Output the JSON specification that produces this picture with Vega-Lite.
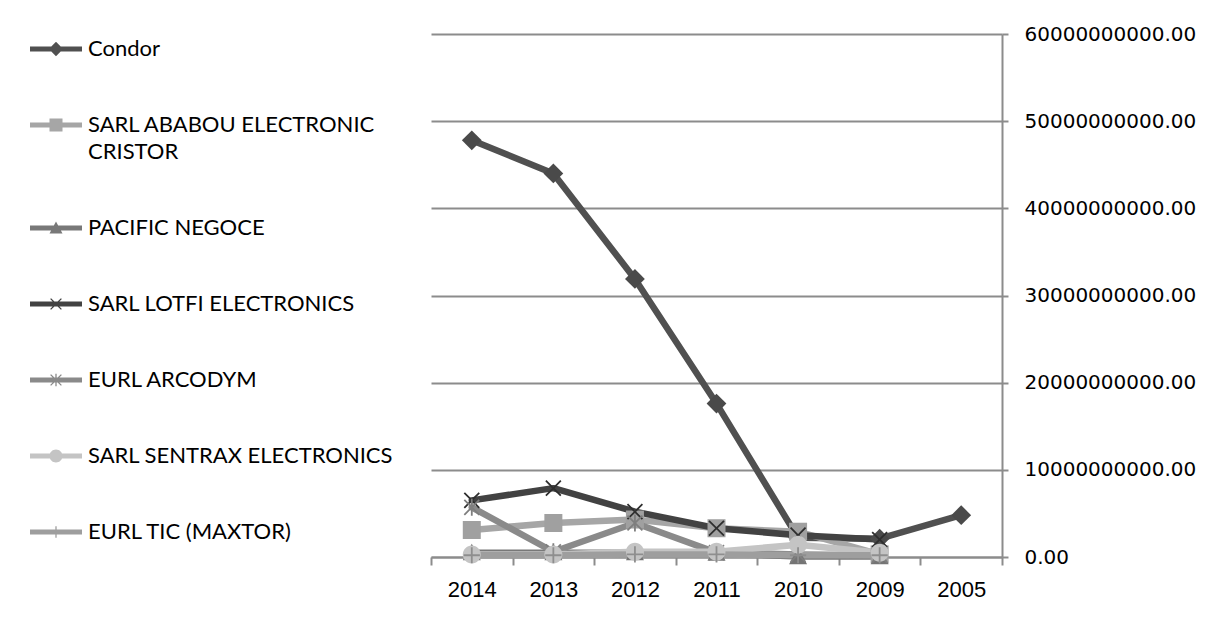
{
  "$schema": "https://vega.github.io/schema/vega-lite/v6.json",
  "autosize": {"type": "none"},
  "padding": {"left": 431, "top": 34, "right": 229, "bottom": 62},
  "width": 571,
  "height": 523,
  "background": "white",
  "config": {
    "view": {"stroke": null},
    "style": {"guide-label": {"lineHeight": 27}}
  },
  "data": {
    "values": [
      {"series": "Condor", "year": "2014", "value": 47800000000},
      {"series": "Condor", "year": "2013", "value": 44000000000},
      {"series": "Condor", "year": "2012", "value": 31900000000},
      {"series": "Condor", "year": "2011", "value": 17600000000},
      {"series": "Condor", "year": "2010", "value": 2200000000},
      {"series": "Condor", "year": "2009", "value": 2100000000},
      {"series": "Condor", "year": "2005", "value": 4800000000},
      {"series": "SARL ABABOU ELECTRONIC CRISTOR", "year": "2014", "value": 3100000000},
      {"series": "SARL ABABOU ELECTRONIC CRISTOR", "year": "2013", "value": 3900000000},
      {"series": "SARL ABABOU ELECTRONIC CRISTOR", "year": "2012", "value": 4300000000},
      {"series": "SARL ABABOU ELECTRONIC CRISTOR", "year": "2011", "value": 3300000000},
      {"series": "SARL ABABOU ELECTRONIC CRISTOR", "year": "2010", "value": 2900000000},
      {"series": "SARL ABABOU ELECTRONIC CRISTOR", "year": "2009", "value": 300000000},
      {"series": "PACIFIC NEGOCE", "year": "2014", "value": 500000000},
      {"series": "PACIFIC NEGOCE", "year": "2013", "value": 500000000},
      {"series": "PACIFIC NEGOCE", "year": "2012", "value": 500000000},
      {"series": "PACIFIC NEGOCE", "year": "2011", "value": 450000000},
      {"series": "PACIFIC NEGOCE", "year": "2010", "value": 50000000},
      {"series": "PACIFIC NEGOCE", "year": "2009", "value": 50000000},
      {"series": "SARL LOTFI ELECTRONICS", "year": "2014", "value": 6500000000},
      {"series": "SARL LOTFI ELECTRONICS", "year": "2013", "value": 7900000000},
      {"series": "SARL LOTFI ELECTRONICS", "year": "2012", "value": 5200000000},
      {"series": "SARL LOTFI ELECTRONICS", "year": "2011", "value": 3300000000},
      {"series": "SARL LOTFI ELECTRONICS", "year": "2010", "value": 2500000000},
      {"series": "SARL LOTFI ELECTRONICS", "year": "2009", "value": 2000000000},
      {"series": "EURL ARCODYM", "year": "2014", "value": 5700000000},
      {"series": "EURL ARCODYM", "year": "2013", "value": 600000000},
      {"series": "EURL ARCODYM", "year": "2012", "value": 3900000000},
      {"series": "EURL ARCODYM", "year": "2011", "value": 500000000},
      {"series": "EURL ARCODYM", "year": "2010", "value": 300000000},
      {"series": "EURL ARCODYM", "year": "2009", "value": 200000000},
      {"series": "SARL SENTRAX ELECTRONICS", "year": "2014", "value": 300000000},
      {"series": "SARL SENTRAX ELECTRONICS", "year": "2013", "value": 300000000},
      {"series": "SARL SENTRAX ELECTRONICS", "year": "2012", "value": 600000000},
      {"series": "SARL SENTRAX ELECTRONICS", "year": "2011", "value": 600000000},
      {"series": "SARL SENTRAX ELECTRONICS", "year": "2010", "value": 1400000000},
      {"series": "SARL SENTRAX ELECTRONICS", "year": "2009", "value": 500000000},
      {"series": "EURL TIC (MAXTOR)", "year": "2014", "value": 200000000},
      {"series": "EURL TIC (MAXTOR)", "year": "2013", "value": 200000000},
      {"series": "EURL TIC (MAXTOR)", "year": "2012", "value": 300000000},
      {"series": "EURL TIC (MAXTOR)", "year": "2011", "value": 300000000},
      {"series": "EURL TIC (MAXTOR)", "year": "2010", "value": 200000000},
      {"series": "EURL TIC (MAXTOR)", "year": "2009", "value": 200000000}
    ]
  },
  "resolve": {"scale": {"color": "independent", "shape": "independent"}},
  "layer": [
    {
      "mark": {"type": "line", "strokeWidth": 6.5, "strokeJoin": "round", "strokeCap": "round"},
      "encoding": {
        "x": {
          "field": "year", "type": "ordinal", "bandPosition": 0.5,
          "sort": ["2014", "2013", "2012", "2011", "2010", "2009", "2005"],
          "scale": {"type": "band", "paddingInner": 0, "paddingOuter": 0},
          "axis": {
            "title": null, "orient": "bottom", "tickBand": "extent",
            "domainColor": "#8c8c8c", "domainWidth": 2, "tickColor": "#8c8c8c", "tickWidth": 2, "tickSize": 8,
            "labelFont": "Liberation Sans", "labelFontSize": 22, "labelColor": "#000000", "labelPadding": 14, "labelAngle": 0,
            "grid": false
          }
        },
        "y": {
          "field": "value", "type": "quantitative",
          "scale": {"domain": [0, 60000000000], "nice": false, "zero": true},
          "axis": {
            "title": null, "orient": "right", "values": [0, 10000000000, 20000000000, 30000000000, 40000000000, 50000000000, 60000000000],
            "format": ".2f", "domainColor": "#8c8c8c", "domainWidth": 2, "tickColor": "#8c8c8c", "tickWidth": 2, "tickSize": 6,
            "labelFont": "DejaVu Sans", "labelFontSize": 20, "labelColor": "#000000", "labelPadding": 16,
            "grid": true, "gridColor": "#8c8c8c", "gridWidth": 2
          }
        },
        "color": {
          "field": "series", "type": "nominal", "legend": null,
          "scale": {
            "domain": ["Condor", "SARL ABABOU ELECTRONIC CRISTOR", "PACIFIC NEGOCE", "SARL LOTFI ELECTRONICS", "EURL ARCODYM", "SARL SENTRAX ELECTRONICS", "EURL TIC (MAXTOR)"],
            "range": ["#505050", "#a6a6a6", "#787878", "#424242", "#8a8a8a", "#c4c4c4", "#9e9e9e"]
          }
        },
        "detail": {"field": "series"}
      }
    },
    {
      "mark": {"type": "point", "filled": true, "size": 324, "opacity": 1, "strokeWidth": 0},
      "encoding": {
        "x": {"field": "year", "type": "ordinal", "bandPosition": 0.5, "sort": ["2014", "2013", "2012", "2011", "2010", "2009", "2005"]},
        "y": {"field": "value", "type": "quantitative"},
        "color": {
          "field": "series", "type": "nominal", "legend": null,
          "scale": {
            "domain": ["Condor", "SARL ABABOU ELECTRONIC CRISTOR", "PACIFIC NEGOCE", "SARL LOTFI ELECTRONICS", "EURL ARCODYM", "SARL SENTRAX ELECTRONICS", "EURL TIC (MAXTOR)"],
            "range": ["#4a4a4a", "#a0a0a0", "#747474", "#2e2e2e", "#7e7e7e", "#c4c4c4", "#8e8e8e"]
          }
        },
        "shape": {
          "field": "series", "type": "nominal", "legend": null,
          "scale": {
            "domain": ["Condor", "SARL ABABOU ELECTRONIC CRISTOR", "PACIFIC NEGOCE", "SARL LOTFI ELECTRONICS", "EURL ARCODYM", "SARL SENTRAX ELECTRONICS", "EURL TIC (MAXTOR)"],
            "range": [
              "M0,-1.1L1.1,0L0,1.1L-1.1,0Z",
              "M-1,-1L1,-1L1,1L-1,1Z",
              "M0,-1L1,0.85L-1,0.85Z",
              "M-0.9,-0.76L-0.76,-0.9L0,-0.14L0.76,-0.9L0.9,-0.76L0.14,0L0.9,0.76L0.76,0.9L0,0.14L-0.76,0.9L-0.9,0.76L-0.14,0Z",
              "M-0.9,-0.76L-0.76,-0.9L0,-0.14L0.76,-0.9L0.9,-0.76L0.14,0L0.9,0.76L0.76,0.9L0,0.14L-0.76,0.9L-0.9,0.76L-0.14,0ZM-0.1,-0.95L0.1,-0.95L0.1,0.95L-0.1,0.95Z",
              "M1,0A1,1,0,1,1,-1,0A1,1,0,1,1,1,0Z",
              "M-0.1,-0.9L0.1,-0.9L0.1,-0.1L0.9,-0.1L0.9,0.1L0.1,0.1L0.1,0.9L-0.1,0.9L-0.1,0.1L-0.9,0.1L-0.9,-0.1L-0.1,-0.1Z"
            ]
          }
        }
      }
    },
    {
      "data": {
        "values": [
          {"series": "Condor"},
          {"series": "SARL ABABOU ELECTRONIC CRISTOR"},
          {"series": "PACIFIC NEGOCE"},
          {"series": "SARL LOTFI ELECTRONICS"},
          {"series": "EURL ARCODYM"},
          {"series": "SARL SENTRAX ELECTRONICS"},
          {"series": "EURL TIC (MAXTOR)"}
        ]
      },
      "mark": {"type": "point", "filled": true, "size": 169, "opacity": 1, "strokeWidth": 0, "clip": true},
      "encoding": {
        "y": {"datum": -20000000000, "type": "quantitative"},
        "color": {
          "field": "series", "type": "nominal",
          "scale": {
            "domain": ["Condor", "SARL ABABOU ELECTRONIC CRISTOR", "PACIFIC NEGOCE", "SARL LOTFI ELECTRONICS", "EURL ARCODYM", "SARL SENTRAX ELECTRONICS", "EURL TIC (MAXTOR)"],
            "range": ["#505050", "#a6a6a6", "#787878", "#424242", "#8a8a8a", "#c4c4c4", "#9e9e9e"]
          },
          "legend": {
            "title": null, "orient": "none", "legendX": -386, "legendY": 4,
            "symbolSize": 169, "symbolStrokeWidth": 0, "symbolOpacity": 1,
            "labelFont": "Lato", "labelFontSize": 22, "labelColor": "#000000", "labelOffset": 21, "labelLimit": 400,
            "rowPadding": 54, "padding": 0,
            "labelExpr": "datum.label == 'SARL ABABOU ELECTRONIC CRISTOR' ? ['SARL ABABOU ELECTRONIC', 'CRISTOR'] : datum.label"
          }
        },
        "shape": {
          "field": "series", "type": "nominal",
          "scale": {
            "domain": ["Condor", "SARL ABABOU ELECTRONIC CRISTOR", "PACIFIC NEGOCE", "SARL LOTFI ELECTRONICS", "EURL ARCODYM", "SARL SENTRAX ELECTRONICS", "EURL TIC (MAXTOR)"],
            "range": [
              "M-4,-0.38L4,-0.38L4,0.38L-4,0.38ZM0,-1.1L1.1,0L0,1.1L-1.1,0Z",
              "M-4,-0.38L4,-0.38L4,0.38L-4,0.38ZM-1,-1L1,-1L1,1L-1,1Z",
              "M-4,-0.38L4,-0.38L4,0.38L-4,0.38ZM0,-1L1,0.85L-1,0.85Z",
              "M-4,-0.38L4,-0.38L4,0.38L-4,0.38ZM-0.9,-0.76L-0.76,-0.9L0,-0.14L0.76,-0.9L0.9,-0.76L0.14,0L0.9,0.76L0.76,0.9L0,0.14L-0.76,0.9L-0.9,0.76L-0.14,0Z",
              "M-4,-0.38L4,-0.38L4,0.38L-4,0.38ZM-0.9,-0.76L-0.76,-0.9L0,-0.14L0.76,-0.9L0.9,-0.76L0.14,0L0.9,0.76L0.76,0.9L0,0.14L-0.76,0.9L-0.9,0.76L-0.14,0ZM-0.1,-0.95L0.1,-0.95L0.1,0.95L-0.1,0.95Z",
              "M-4,-0.38L4,-0.38L4,0.38L-4,0.38ZM1,0A1,1,0,1,1,-1,0A1,1,0,1,1,1,0Z",
              "M-4,-0.38L4,-0.38L4,0.38L-4,0.38ZM-0.1,-0.9L0.1,-0.9L0.1,-0.1L0.9,-0.1L0.9,0.1L0.1,0.1L0.1,0.9L-0.1,0.9L-0.1,0.1L-0.9,0.1L-0.9,-0.1L-0.1,-0.1Z"
            ]
          }
        }
      }
    }
  ]
}
